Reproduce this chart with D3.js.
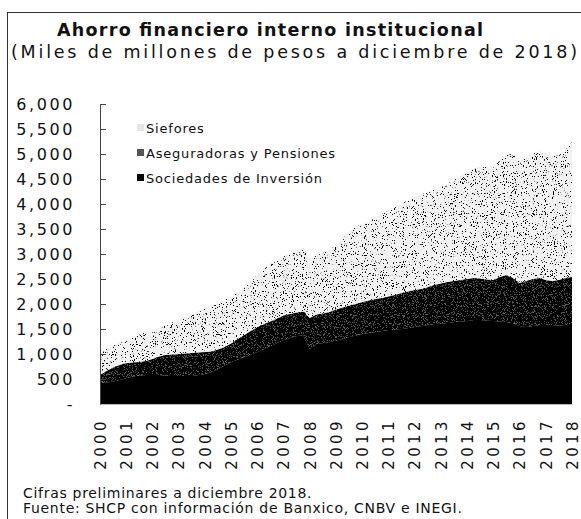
<!DOCTYPE html>
<html>
<head>
<meta charset="utf-8">
<script src="https://cdn.jsdelivr.net/npm/d3@7"></script>
<style>
  body { margin: 0; background: #fff; }
  svg text { font-family: "DejaVu Sans", sans-serif; fill: #111; }
</style>
</head>
<body>
<div id="my_dataviz"></div>
<script>

var width = 581,
    height = 519

// fechas trimestrales (año decimal)
var fechas = [
  2000.00, 2000.25, 2000.50, 2000.75, 2001.00, 2001.25, 2001.50, 2001.75,
  2002.00, 2002.25, 2002.50, 2002.75, 2003.00, 2003.25, 2003.50, 2003.75,
  2004.00, 2004.25, 2004.50, 2004.75, 2005.00, 2005.25, 2005.50, 2005.75,
  2006.00, 2006.25, 2006.50, 2006.75, 2007.00, 2007.25, 2007.50, 2007.75,
  2008.00, 2008.25, 2008.50, 2008.75, 2009.00, 2009.25, 2009.50, 2009.75,
  2010.00, 2010.25, 2010.50, 2010.75, 2011.00, 2011.25, 2011.50, 2011.75,
  2012.00, 2012.25, 2012.50, 2012.75, 2013.00, 2013.25, 2013.50, 2013.75,
  2014.00, 2014.25, 2014.50, 2014.75, 2015.00, 2015.25, 2015.50, 2015.75,
  2016.00, 2016.25, 2016.50, 2016.75, 2017.00, 2017.25, 2017.50, 2017.75,
  2018.00
]

var sociedades = [
  420, 430, 450, 480, 520, 550, 570, 580,
  580, 580, 570, 560, 560, 560, 560, 580,
  600, 640, 700, 770, 840, 890, 940, 990,
  1040, 1100, 1160, 1220, 1280, 1320, 1360, 1380,
  1100, 1200, 1220, 1240, 1270, 1300, 1340, 1370,
  1400, 1420, 1440, 1460, 1480, 1490, 1500, 1520,
  1540, 1560, 1580, 1600, 1610, 1620, 1640, 1650,
  1660, 1680, 1680, 1670, 1660, 1650, 1640, 1620,
  1560, 1540, 1560, 1580, 1580, 1580, 1570, 1580,
  1580
]

var aseguradoras = [
  160, 230, 280, 300, 300, 280, 270, 280,
  320, 370, 410, 430, 440, 450, 460, 450,
  440, 410, 390, 370, 370, 410, 440, 470,
  500, 500, 490, 490, 490, 480, 470, 470,
  620, 590, 590, 600, 620, 630, 630, 630,
  640, 650, 660, 660, 670, 690, 720, 730,
  740, 740, 760, 780, 800, 820, 820, 830,
  840, 840, 830, 820, 820, 890, 940, 900,
  860, 920, 940, 940, 900, 880, 910, 940,
  960
]

var siefores = [
  420, 440, 440, 440, 460, 500, 550, 580,
  580, 570, 590, 640, 680, 730, 780, 830,
  870, 910, 930, 940, 940, 930, 940, 990,
  1040, 1100, 1150, 1160, 1180, 1220, 1250, 1270,
  1180, 1190, 1210, 1240, 1290, 1370, 1480, 1540,
  1560, 1590, 1620, 1680, 1730, 1750, 1780, 1830,
  1860, 1890, 1900, 1910, 1920, 1970, 2030, 2070,
  2130, 2190, 2230, 2250, 2280, 2340, 2420, 2470,
  2460, 2460, 2500, 2540, 2520, 2500, 2490, 2560,
  2700
]

var series = ["sociedades", "aseguradoras", "siefores"]
var etiquetas = ["Siefores", "Aseguradoras y Pensiones", "Sociedades de Inversión"]
var anios = [2000, 2001, 2002, 2003, 2004, 2005, 2006, 2007, 2008, 2009,
             2010, 2011, 2012, 2013, 2014, 2015, 2016, 2017, 2018]
var yTicks = [0, 500, 1000, 1500, 2000, 2500, 3000, 3500, 4000, 4500, 5000, 5500, 6000]

var data = fechas.map(function(f, i) {
  return { fecha: f, sociedades: sociedades[i], aseguradoras: aseguradoras[i], siefores: siefores[i] }
})

var svg = d3.select("#my_dataviz")
  .append("svg")
    .attr("width", width)
    .attr("height", height)

svg.append("rect").attr("width", width).attr("height", height).attr("fill", "#fff")

// texturas punteadas (ruido)
var defs = svg.append("defs")
function stipple(id, cut, seed, freq) {
  var f = defs.append("filter")
    .attr("id", id)
    .attr("filterUnits", "userSpaceOnUse")
    .attr("x", 0).attr("y", 0).attr("width", width).attr("height", height)
    .attr("color-interpolation-filters", "sRGB")
  f.append("feTurbulence")
    .attr("type", "fractalNoise")
    .attr("baseFrequency", freq)
    .attr("numOctaves", 2)
    .attr("seed", seed)
    .attr("result", "n")
  f.append("feColorMatrix")
    .attr("in", "n")
    .attr("type", "matrix")
    .attr("values", "0 0 0 0 0  0 0 0 0 0  0 0 0 0 0  -25 0 0 0 " + (25 * cut))
    .attr("result", "d")
  f.append("feComposite").attr("in", "d").attr("in2", "SourceAlpha").attr("operator", "in").attr("result", "dc")
  var m = f.append("feMerge")
  m.append("feMergeNode").attr("in", "SourceGraphic")
  m.append("feMergeNode").attr("in", "dc")
}
stipple("texLight", 0.36, 3, 0.9)
stipple("texDark", 0.62, 7, 0.9)

var fills = { sociedades: "#000", aseguradoras: "#555", siefores: "#f2f2f2" }
var filters = { sociedades: null, aseguradoras: "url(#texDark)", siefores: "url(#texLight)" }
var leyFills = { sociedades: "#000", aseguradoras: "#555", siefores: "#e4e4e4" }

// marco
svg.append("line").attr("x1", 7).attr("x2", width).attr("y1", 12.5).attr("y2", 12.5)
  .attr("stroke", "#333").attr("stroke-width", 1)
svg.append("line").attr("x1", 7.5).attr("x2", 7.5).attr("y1", 12).attr("y2", height)
  .attr("stroke", "#333").attr("stroke-width", 1)

// titulos
svg.append("text")
  .attr("x", 270).attr("y", 36)
  .attr("text-anchor", "middle")
  .style("font-weight", "bold")
  .style("font-size", "17.5px")
  .attr("textLength", 426)
  .text("Ahorro financiero interno institucional")

svg.append("text")
  .attr("x", 294).attr("y", 58)
  .attr("text-anchor", "middle")
  .style("font-size", "17.5px")
  .attr("textLength", 566)
  .text("(Miles de millones de pesos a diciembre de 2018)")

var x = d3.scaleLinear().domain([2000, 2018]).range([100, 572])
var y = d3.scaleLinear().domain([0, 6000]).range([404, 104])

var stack = d3.stack().keys(series)
var layers = stack(data)

var area = d3.area()
  .x(function(d) { return x(d.data.fecha) })
  .y0(function(d) { return y(d[0]) })
  .y1(function(d) { return y(d[1]) })

svg.selectAll("capas")
  .data(layers)
  .enter()
  .append("path")
    .attr("d", area)
    .attr("fill", function(d) { return fills[d.key] })
    .attr("filter", function(d) { return filters[d.key] })

// eje y
var yAxis = svg.append("g")
  .attr("transform", "translate(100,0)")
  .call(d3.axisLeft(y)
    .tickValues(yTicks)
    .tickSizeInner(-6)
    .tickSizeOuter(0)
    .tickPadding(25)
    .tickFormat(function(d) { return d === 0 ? "-" : d3.format(",")(d) }))
yAxis.select(".domain").attr("stroke", "#444")
yAxis.selectAll(".tick line").attr("stroke", "#444")
yAxis.selectAll("text")
  .style("font-size", "16px")
  .style("letter-spacing", "2.6px")
  .attr("fill", "#111")

// eje x
var xAxis = svg.append("g")
  .attr("transform", "translate(0,404)")
  .call(d3.axisBottom(x).tickValues(anios).tickSize(0).tickFormat(d3.format("d")))
xAxis.select(".domain").attr("stroke", "#bbb")
xAxis.selectAll("text")
  .attr("transform", "rotate(-90)")
  .attr("x", -14)
  .attr("y", 0)
  .attr("dy", "0.35em")
  .style("text-anchor", "end")
  .style("font-size", "15px")
  .style("letter-spacing", "3.4px")
  .attr("fill", "#111")

// leyenda
var leyKeys = ["siefores", "aseguradoras", "sociedades"]
var ley = svg.selectAll("leyenda")
  .data(leyKeys)
  .enter()
  .append("g")
    .attr("transform", function(d, i) { return "translate(137," + (128 + i * 25) + ")" })
ley.append("rect")
  .attr("x", 0).attr("y", -4).attr("width", 7).attr("height", 7)
  .attr("fill", function(d) { return leyFills[d] })
ley.append("text")
  .attr("x", 9).attr("dy", "0.35em")
  .style("font-size", "13px")
  .style("letter-spacing", "0.8px")
  .text(function(d, i) { return etiquetas[i] })

// notas
svg.append("text")
  .attr("x", 23).attr("y", 498)
  .style("font-size", "14px")
  .style("letter-spacing", "0.7px")
  .text("Cifras preliminares a  diciembre 2018.")
svg.append("text")
  .attr("x", 23).attr("y", 513)
  .style("font-size", "14px")
  .style("letter-spacing", "0.7px")
  .text("Fuente: SHCP con información de Banxico, CNBV e INEGI.")

</script>
</body>
</html>
